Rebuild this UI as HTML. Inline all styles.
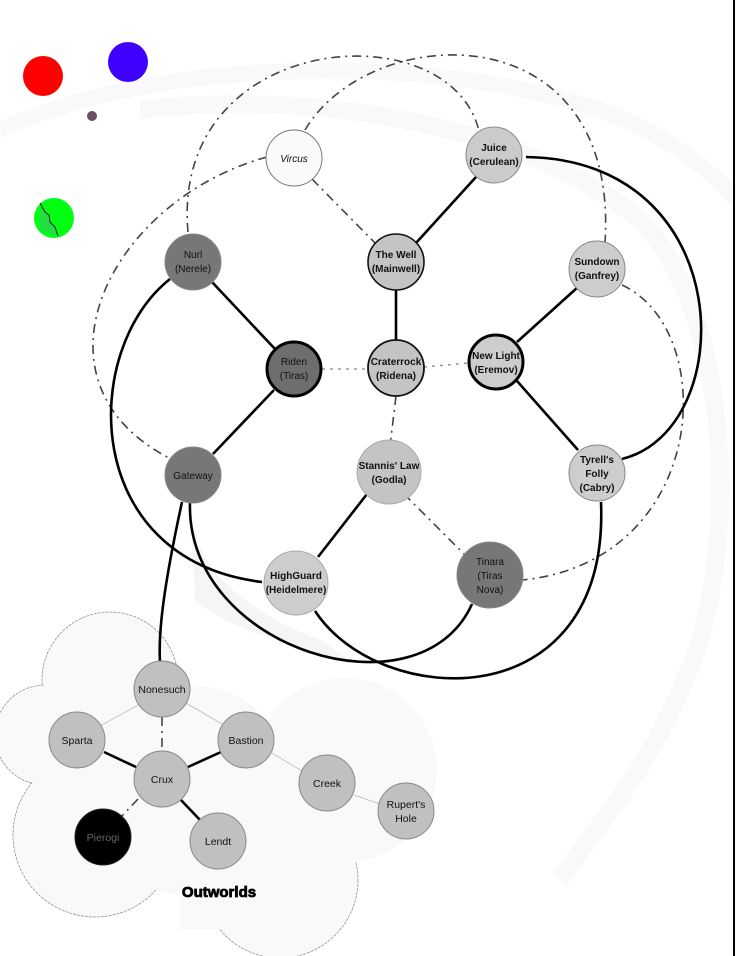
<!DOCTYPE html>
<html><head><meta charset="utf-8"><style>
html,body{margin:0;padding:0;background:#fff;}
svg{display:block;}
.b{font-family:"Liberation Sans",sans-serif;font-size:10px;font-weight:bold;fill:#111;text-anchor:middle;}
.o{font-family:"Liberation Sans",sans-serif;font-size:10.5px;fill:#111;text-anchor:middle;}
</style></head><body>
<svg width="736" height="956" viewBox="0 0 736 956" xmlns="http://www.w3.org/2000/svg">
<!-- background swooshes -->
<path d="M0,130 C150,60 420,50 600,110 C680,140 720,180 736,200" fill="none" stroke="#f9f9f9" stroke-width="16"/>
<path d="M140,110 C300,90 520,120 640,220 C720,300 740,500 700,640 C660,760 600,820 560,880" fill="none" stroke="#f9f9f9" stroke-width="18"/>
<!-- cloud -->
<g stroke="#888" stroke-width="0.7" stroke-dasharray="3,1" fill="#f9f9f9">
<circle cx="110" cy="680" r="68"/><circle cx="45" cy="735" r="50"/><circle cx="95" cy="835" r="82"/>
<circle cx="280" cy="880" r="78"/>
</g>
<g fill="#f9f9f9">
<circle cx="110" cy="680" r="67"/><circle cx="45" cy="735" r="49"/><circle cx="95" cy="835" r="81"/>
<circle cx="280" cy="880" r="77"/><circle cx="190" cy="790" r="105"/><circle cx="345" cy="770" r="92"/>
<rect x="180" y="730" width="150" height="200"/>
</g>
<!-- colored planets -->
<circle cx="43" cy="76" r="20" fill="#ff0000"/>
<circle cx="128" cy="62" r="20" fill="#4000ff"/>
<circle cx="92" cy="116" r="5" fill="#6b5060"/>
<circle cx="54" cy="218" r="20" fill="#00ff10"/>
<path d="M40,203 L45,212 L49,215 L50,222 L55,227 L58,236 L40,230 Z" fill="#22dd44"/>
<path d="M40,203 L45,212 L49,215 L50,222 L55,227 L58,236" fill="none" stroke="#222" stroke-width="1"/>
<!-- dash-dot arcs -->
<g fill="none" stroke="#444" stroke-width="1.6" stroke-dasharray="9,5,2,5">
<path d="M188,232 C170,30 450,10 479,131"/>
<path d="M305,130 C370,20 620,10 605,243"/>
<path d="M267,157 C110,200 20,380 169,458"/>
<path d="M622,285 C720,330 710,560 523,580"/>
<line x1="312" y1="179" x2="376" y2="244"/>
<line x1="396" y1="396" x2="390" y2="446"/>
<line x1="404" y1="494" x2="466" y2="556"/>
<line x1="162" y1="717" x2="162" y2="751"/>
<line x1="138" y1="799" x2="120" y2="818"/>
</g>
<!-- dotted -->
<g fill="none" stroke="#888" stroke-width="1.3" stroke-dasharray="3,5">
<line x1="322" y1="369" x2="368" y2="369"/>
<line x1="424" y1="367" x2="469" y2="363"/>
</g>
<g stroke="#bbb" stroke-width="0.8">
<line x1="140" y1="704" x2="100" y2="726"/>
<line x1="186" y1="703" x2="222" y2="724"/>
<line x1="272" y1="753" x2="302" y2="771"/>
<line x1="354" y1="795" x2="380" y2="804"/>
</g>
<!-- solid curves -->
<path d="M190,502 C188,560 240,610 320,640 L350,660 C300,650 230,630 195,600 Z" fill="#eee" opacity="0.6"/>
<g fill="none" stroke="#000" stroke-width="2.6">
<path d="M170,279 C80,350 80,560 262,582"/>
<path d="M190,502 C185,650 420,720 472,604"/>
<path d="M315,611 C380,710 610,720 601,502"/>
<path d="M526,157 C740,160 740,430 622,459"/>
<path d="M182,502 C165,580 158,630 160,662"/>
<line x1="476" y1="177" x2="416" y2="243"/>
<line x1="396" y1="290" x2="396" y2="341"/>
<line x1="212" y1="282" x2="275" y2="349"/>
<line x1="274" y1="390" x2="213" y2="454"/>
<line x1="517" y1="342" x2="578" y2="287"/>
<line x1="517" y1="381" x2="578" y2="450"/>
<line x1="367" y1="494" x2="318" y2="557"/>
<line x1="104" y1="752" x2="136" y2="767"/>
<line x1="188" y1="767" x2="221" y2="752"/>
<line x1="180" y1="799" x2="201" y2="821"/>
</g>
<!-- main nodes -->
<g stroke="#888" stroke-width="1">
<circle cx="294" cy="158" r="28" fill="#fafafa" stroke="#777"/>
<circle cx="494" cy="155" r="28" fill="#cbcbcb"/>
<circle cx="396" cy="262" r="28" fill="#c4c4c4" stroke="#111" stroke-width="1.6"/>
<circle cx="193" cy="262" r="28" fill="#777"/>
<circle cx="597" cy="269" r="28" fill="#cdcdcd"/>
<circle cx="294" cy="369" r="27" fill="#6e6e6e" stroke="#000" stroke-width="3"/>
<circle cx="396" cy="368" r="28" fill="#c4c4c4" stroke="#111" stroke-width="1.8"/>
<circle cx="496" cy="362" r="27" fill="#cdcdcd" stroke="#000" stroke-width="3"/>
<circle cx="193" cy="475" r="28" fill="#777"/>
<circle cx="389" cy="472" r="32" fill="#c4c4c4" stroke="#aaa"/>
<circle cx="597" cy="473" r="28" fill="#cdcdcd"/>
<circle cx="296" cy="583" r="32" fill="#cdcdcd" stroke="#aaa"/>
<circle cx="490" cy="575" r="33" fill="#777"/>
</g>
<g class="b">
<text x="294" y="162" font-style="italic" font-weight="normal">Vircus</text>
<text x="494" y="151">Juice</text><text x="494" y="165">(Cerulean)</text>
<text x="396" y="258">The Well</text><text x="396" y="272">(Mainwell)</text>
<text x="193" y="258" font-weight="normal">Nurl</text><text x="193" y="272" font-weight="normal">(Nerele)</text>
<text x="597" y="265">Sundown</text><text x="597" y="279">(Ganfrey)</text>
<text x="294" y="365" font-weight="normal">Riden</text><text x="294" y="379" font-weight="normal">(Tiras)</text>
<text x="396" y="365">Craterrock</text><text x="396" y="379">(Ridena)</text>
<text x="496" y="359">New Light</text><text x="496" y="373">(Eremov)</text>
<text x="193" y="479" font-weight="normal">Gateway</text>
<text x="389" y="469">Stannis' Law</text><text x="389" y="483">(Godla)</text>
<text x="597" y="463">Tyrell's</text><text x="597" y="477">Folly</text><text x="597" y="491">(Cabry)</text>
<text x="296" y="579">HighGuard</text><text x="296" y="593">(Heidelmere)</text>
<text x="490" y="565" font-weight="normal">Tinara</text><text x="490" y="579" font-weight="normal">(Tiras</text><text x="490" y="593" font-weight="normal">Nova)</text>
</g>
<!-- outworld nodes -->
<g fill="#c0c0c0" stroke="#888" stroke-width="1">
<circle cx="162" cy="689" r="28"/>
<circle cx="77" cy="740" r="28"/>
<circle cx="246" cy="740" r="28"/>
<circle cx="162" cy="779" r="28"/>
<circle cx="327" cy="783" r="28"/>
<circle cx="406" cy="811" r="28"/>
<circle cx="103" cy="837" r="28" fill="#000" stroke="#222"/>
<circle cx="218" cy="841" r="28"/>
</g>
<g class="o">
<text x="162" y="693">Nonesuch</text>
<text x="77" y="744">Sparta</text>
<text x="246" y="744">Bastion</text>
<text x="162" y="783">Crux</text>
<text x="327" y="787">Creek</text>
<text x="406" y="808">Rupert's</text><text x="406" y="822">Hole</text>
<text x="103" y="841" fill="#666">Pierogi</text>
<text x="218" y="845">Lendt</text>
</g>
<text x="219" y="897" font-family="Liberation Sans,sans-serif" font-size="15" font-weight="bold" text-anchor="middle" fill="#000" stroke="#000" stroke-width="0.8">Outworlds</text>
<rect x="733" y="0" width="2" height="956" fill="#000"/>
</svg>
</body></html>
